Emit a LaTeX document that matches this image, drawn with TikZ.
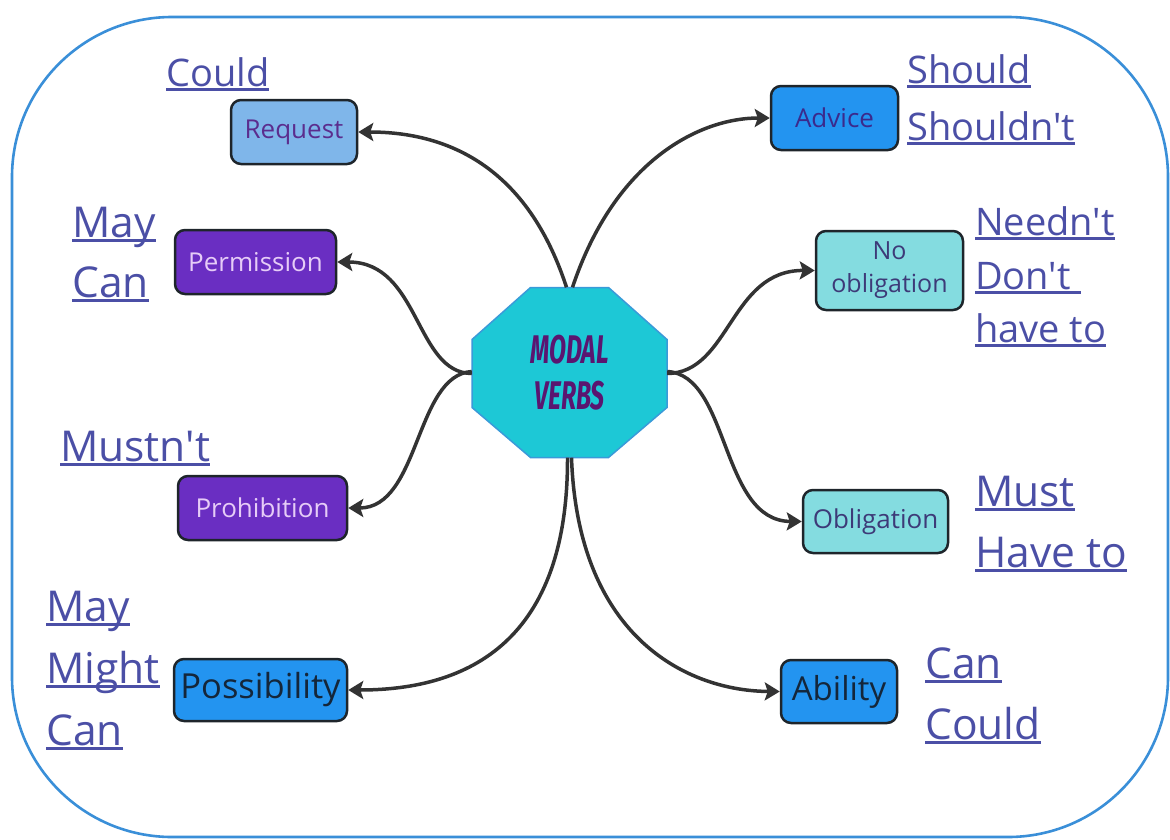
\documentclass[tikz,border=0pt]{standalone}
\usepackage{fontspec}
\setmainfont{Open Sans}[Ligatures=TeXOff]
\newfontfamily\titlefont{Fira Sans}
\usetikzlibrary{arrows.meta}
\definecolor{frameblue}{HTML}{3A8FD8}
\definecolor{linkblue}{HTML}{4B4FA6}
\definecolor{edgegray}{HTML}{333333}
\definecolor{boxborder}{HTML}{1E252B}
\definecolor{reqfill}{HTML}{7FB6EA}
\definecolor{purpfill}{HTML}{6A2EC2}
\definecolor{bluefill}{HTML}{2394F0}
\definecolor{cyanfill}{HTML}{84DCE0}
\definecolor{octfill}{HTML}{1DC8D6}
\definecolor{octborder}{HTML}{3A9AD9}
\definecolor{titlepurple}{HTML}{5A1570}
\definecolor{reqtext}{HTML}{5B2D8E}
\definecolor{lavtext}{HTML}{E6CCF7}
\definecolor{advtext}{HTML}{3B2A8C}
\definecolor{obltext}{HTML}{3D3A78}
\definecolor{darktext}{HTML}{14263A}
\newcommand\lnk[1]{\setbox0\hbox{#1}\rlap{\rule[-4.5pt]{\wd0}{2.3pt}}\box0}
\tikzset{
  frame/.style={draw=frameblue, line width=2.6pt, rounded corners=160pt},
  catbox/.style={draw=boxborder, line width=2.5pt, rounded corners=10pt, inner sep=0pt, align=center},
  linktext/.style={anchor=base west, text=linkblue, font=\fontsize{38}{46}\selectfont, inner sep=0pt},
  biglink/.style={linktext, font=\fontsize{42.5}{50}\selectfont},
  conn/.style={draw=edgegray, line width=3.5pt, -{Stealth[length=15pt,width=18pt,inset=3pt]}},
}
\begin{document}
\begin{tikzpicture}[x=1pt,y=-1pt]
\useasboundingbox (0,0) rectangle (1170,839);
\draw[frame] (12,17) rectangle (1168,837);

% central octagon
\coordinate (c) at (569.5,372.5);
\draw[fill=octfill, draw=octborder, line width=1.5pt]
  ([shift={(-39,-85)}]c) -- ([shift={(39,-85)}]c) -- ([shift={(97.5,-33)}]c) -- ([shift={(97.5,35)}]c)
  -- ([shift={(39,85)}]c) -- ([shift={(-39,85)}]c) -- ([shift={(-97.5,35)}]c) -- ([shift={(-97.5,-33)}]c) -- cycle;
\node[minimum width=195pt, minimum height=170pt, inner sep=0pt, align=center,
      text=titlepurple, font=\titlefont\fontsize{40}{46}\selectfont\bfseries\itshape] (mv) at (c)
  {\scalebox{0.62}[1]{MODAL}\\\scalebox{0.62}[1]{VERBS}};

% category boxes
\node[catbox, fill=reqfill, text=reqtext, minimum width=126pt, minimum height=64pt, font=\fontsize{26}{30}\selectfont] (req) at (294,132) {Request};
\node[catbox, fill=purpfill, text=lavtext, minimum width=161pt, minimum height=64pt, font=\fontsize{26}{30}\selectfont] (perm) at (255.5,262) {Permission};
\node[catbox, fill=purpfill, text=lavtext, minimum width=169pt, minimum height=64pt, font=\fontsize{26}{30}\selectfont] (proh) at (262.5,508) {Prohibition};
\node[catbox, fill=bluefill, text=darktext, minimum width=173pt, minimum height=62pt, font=\fontsize{34.5}{40}\selectfont] (poss) at (260.5,690) {Possibility};
\node[catbox, fill=bluefill, text=advtext, minimum width=127pt, minimum height=64pt, font=\fontsize{26}{30}\selectfont] (adv) at (834.5,118) {Advice};
\node[catbox, fill=cyanfill, text=obltext, minimum width=147pt, minimum height=79pt, font=\fontsize{25}{33}\selectfont] (noobl) at (889.5,270.5) {No\\obligation};
\node[catbox, fill=cyanfill, text=obltext, minimum width=145pt, minimum height=63pt, font=\fontsize{26}{30}\selectfont] (obl) at (875.5,521.5) {Obligation};
\node[catbox, fill=bluefill, text=darktext, minimum width=116pt, minimum height=63pt, font=\fontsize{33}{40}\selectfont] (abl) at (839,691.5) {Ability};

% connectors
\draw[conn] ([xshift=-3pt]mv.north) .. controls (525,160) and (440,132) .. (req.east);
\draw[conn] ([xshift=3pt]mv.north) .. controls (615,160) and (700,118) .. (adv.west);
\draw[conn] ([yshift=-1pt]mv.west) .. controls (415,373) and (420,262) .. (perm.east);
\draw[conn] ([yshift=1pt]mv.west) .. controls (415,375) and (420,508) .. (proh.east);
\draw[conn] ([xshift=-2pt]mv.south) .. controls (568,640) and (470,690) .. (poss.east);
\draw[conn] ([xshift=2pt]mv.south) .. controls (578,640) and (690,691) .. (abl.west);
\draw[conn] ([yshift=-1pt]mv.east) .. controls (730,373) and (730,270) .. (noobl.west);
\draw[conn] ([yshift=1pt]mv.east) .. controls (730,375) and (720,521) .. (obl.west);

% link texts
\node[linktext] (t1) at (166,86) {\lnk{Could}};
\node[linktext] (t2) at (907,83) {\lnk{Should}};
\node[linktext] (t3) at (907,140) {\lnk{Shouldn't}};
\node[biglink] (t4) at (72,237) {\lnk{May}};
\node[biglink] (t5) at (72,297) {\lnk{Can}};
\node[linktext] (t6) at (975,235) {\lnk{Needn't}};
\node[linktext] (t7) at (975,289) {\lnk{Don't }};
\node[linktext] (t8) at (975,342) {\lnk{have to}};
\node[biglink] (t9) at (60,461) {\lnk{Mustn't}};
\node[biglink] (t10) at (975,506) {\lnk{Must}};
\node[biglink] (t11) at (975,567) {\lnk{Have to}};
\node[biglink] (t12) at (46,621) {\lnk{May}};
\node[biglink] (t13) at (46,683) {\lnk{Might}};
\node[biglink] (t14) at (46,745) {\lnk{Can}};
\node[biglink] (t15) at (925,678) {\lnk{Can}};
\node[biglink] (t16) at (925,739) {\lnk{Could}};
\end{tikzpicture}
\end{document}
